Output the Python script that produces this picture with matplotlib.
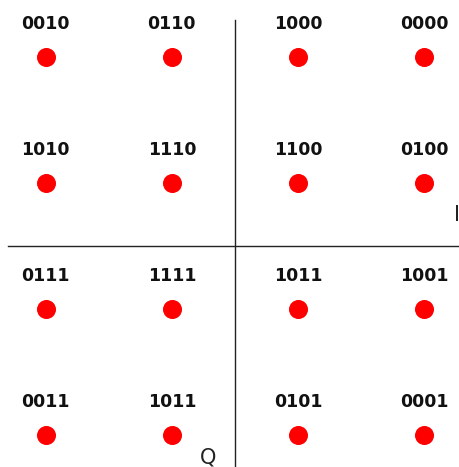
import matplotlib
matplotlib.use("Agg")
import matplotlib.pyplot as plt

i_vals = [-3, -1, 1, 3]
q_vals = [3, 1, -1, -3]
labels = [
    ["0010", "0110", "1000", "0000"],
    ["1010", "1110", "1100", "0100"],
    ["0111", "1111", "1011", "1001"],
    ["0011", "1011", "0101", "0001"],
]

fig = plt.figure(figsize=(4.59, 4.67), dpi=100)
ax = fig.add_axes([0, 0, 1, 1])
ax.set_xlim(-3.721, 3.547)
ax.set_ylim(-3.508, 3.905)
ax.axis("off")

ax.plot([-3.594, 3.547], [0, 0], color="#222222", lw=1)
ax.plot([0, 0], [-3.508, 3.587], color="#222222", lw=1)

for r, q in enumerate(q_vals):
    for c, i in enumerate(i_vals):
        ax.plot(i, q, "o", color="red", markersize=13.7, markeredgewidth=0)
        ax.text(i, q + 0.52, labels[r][c], ha="center", va="center",
                fontsize=12.5, fontweight="semibold", color="#111111")

ax.text(3.515, 0.49, "I", ha="center", va="center", fontsize=15, color="#222222")
ax.text(-0.43, -3.35, "Q", ha="center", va="center", fontsize=15, color="#222222")

fig.savefig("out.png", dpi=100)
